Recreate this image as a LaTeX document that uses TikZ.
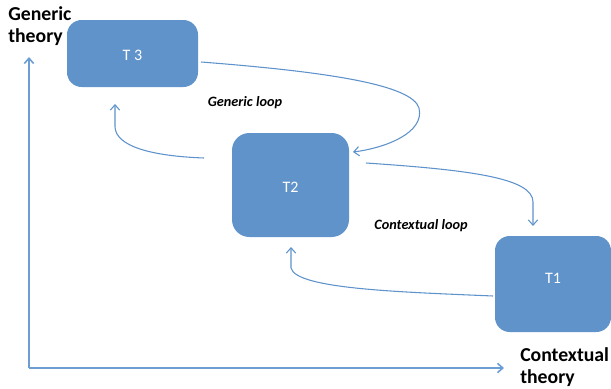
\documentclass[tikz,border=0pt]{standalone}
\usepackage{fontspec}
\setmainfont{Carlito}
\usetikzlibrary{arrows.meta,calc}
\definecolor{boxblue}{HTML}{5F93C9}
\definecolor{lineblue}{HTML}{5E92CB}
\definecolor{axisblue}{HTML}{6C9ED4}
\begin{document}
\begin{tikzpicture}[x=0.75pt,y=-0.75pt,
  tbox/.style={draw=none,fill=boxblue},
  tlabel/.style={inner sep=0pt,text=white,font=\fontsize{12}{14}\selectfont},
  conn/.style={draw=lineblue,line width=0.8pt,-{Straight Barb[length=4pt,width=7pt,line width=0.8pt]}},
  axisline/.style={draw=axisblue,line width=1.5pt,-{Straight Barb[length=4pt,width=7pt,line width=1.2pt]}},
  axlabel/.style={font=\fontsize{14.8}{16.5}\selectfont\bfseries,align=left,anchor=north west,inner sep=0pt},
  looplabel/.style={font=\fontsize{10.7}{13}\selectfont\bfseries\itshape,inner sep=0pt}]
\useasboundingbox (0,0) rectangle (611,389);
% boxes
\path[tbox,rounded corners=11] (67,20) rectangle (198,87);
\node[tlabel] (t3) at (132.5,55) {T 3};
\path[tbox,rounded corners=13] (232,133) rectangle (349,237);
\node[tlabel] (t2) at (290.5,187) {T2};
\path[tbox,rounded corners=11] (495,236) rectangle (611,332);
\node[tlabel] (t1) at (553,278) {T1};
% named anchor points on box edges
\coordinate (t3r) at (201,62);
\coordinate (t2rin) at (353,152);
\coordinate (t2rout) at (366,163);
\coordinate (t1top) at (533,226);
\coordinate (t1l) at (493,296);
\coordinate (t2bot) at (291,247);
\coordinate (t2l) at (204,158);
\coordinate (t3bot) at (115,104);
% connectors
\draw[conn] (t3r) .. controls (330,72) and (412,85) .. (419,108) .. controls (425,133) and (385,148) .. (t2rin);
\draw[conn] (t2rout) .. controls (470,170) and (533,178) .. (533,202) -- (t1top);
\draw[conn] (t1l) .. controls (400,292) and (296,289) .. (291,268) -- (t2bot);
\draw[conn] (t2l) .. controls (150,156) and (116,146) .. (115,127) -- (t3bot);
% axes
\coordinate (origin) at (29,368);
\coordinate (yend) at (29,57);
\coordinate (xend) at (504,368);
\draw[axisline] (origin) -- (yend);
\draw[axisline] (origin) -- (xend);
% labels
\node[axlabel] (gt) at (8,6) {Generic\\theory};
\node[axlabel] (ct) at (520,347) {Contextual\\theory};
\node[looplabel] (gl) at (245,103) {Generic loop};
\node[looplabel] (cl) at (421,226) {Contextual loop};
\end{tikzpicture}
\end{document}
